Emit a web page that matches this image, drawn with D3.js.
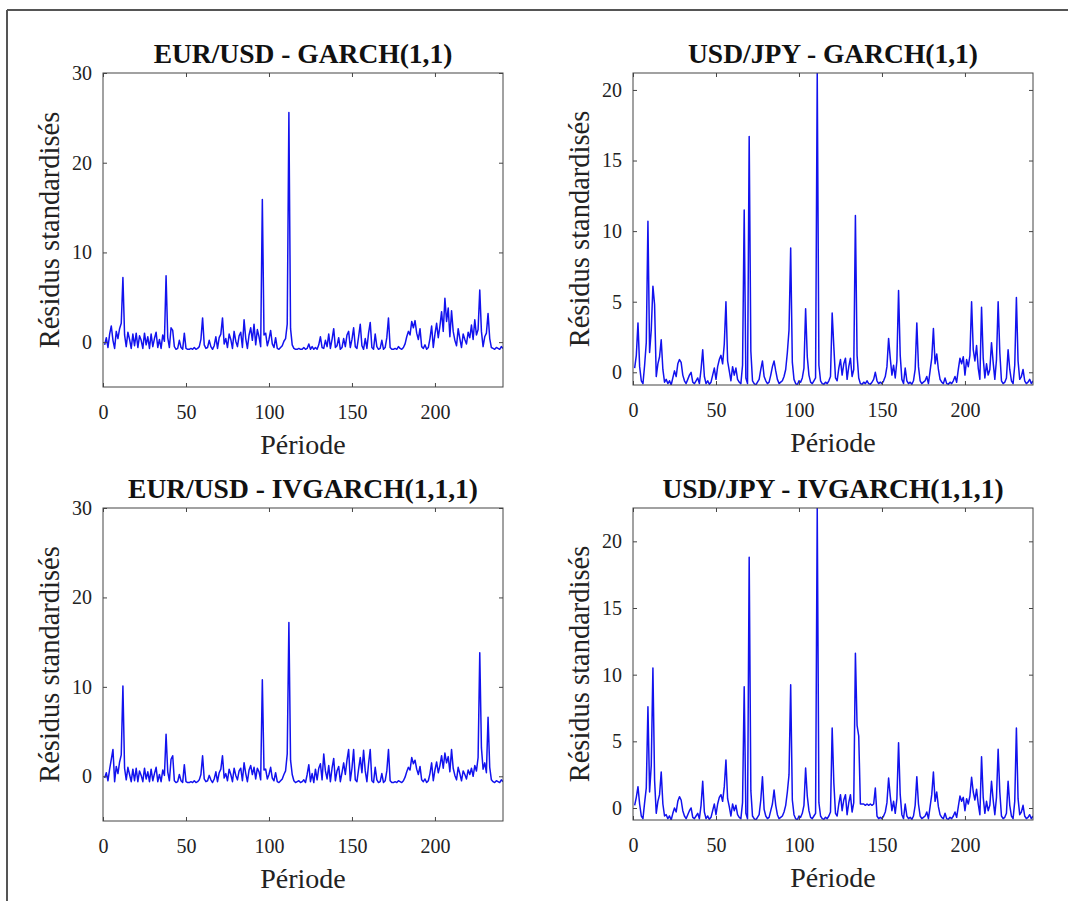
<!DOCTYPE html>
<html>
<head>
<meta charset="utf-8">
<script src="https://cdn.jsdelivr.net/npm/d3@7"></script>
<style>
  html, body { margin: 0; padding: 0; background: #fff; }
  svg { display: block; }
</style>
</head>
<body>
<svg id="chart" width="1070" height="901"></svg>
<script>
// ---------- DATA ----------
const titles = ["EUR/USD - GARCH(1,1)", "USD/JPY - GARCH(1,1)", "EUR/USD - IVGARCH(1,1,1)", "USD/JPY - IVGARCH(1,1,1)"];
const xLabel = "Période";
const yLabel = "Résidus standardisés";
const xTicks = [0, 50, 100, 150, 200];
const yTicksEUR = [0, 10, 20, 30];
const yTicksJPY = [0, 5, 10, 15, 20];

const eurGarch = [
  -0.3, 0.5, -0.6, 0.9, 1.8, 0.2, -0.7, 1.2, 0.4, 1.5,
  2.1, 7.2, 0.8, -0.5, 1.1, 0.3, -0.7, 0.9, -0.4, 1.0,
  -0.6, 0.7, 0.2, -0.7, 1.0, -0.3, 0.6, -0.7, 0.9, -0.5,
  0.4, 1.1, -0.6, 0.3, -0.7, 0.8, 0.1, 7.4, 0.5, -0.6,
  1.6, 1.3, -0.5, -0.8, -0.7, 0.2, -0.6, -0.8, 1.0, -0.7,
  -0.8, -0.8, -0.7, -0.8, -0.6, -0.8, -0.7, -0.5, 0.3, 2.7,
  -0.3, -0.7, -0.6, 0.2, -0.5, -0.8, -0.4, 0.6, -0.7, 0.5,
  0.9, 2.7, -0.2, 0.4, -0.6, 0.9, 0.3, -0.7, 1.2, 0.1,
  -0.5, 0.7, 1.1, -0.6, 2.5, 0.4, -0.7, 0.8, 1.6, 0.2,
  2.0, -0.3, 1.4, 0.6, -0.5, 15.9, 0.8, 1.0, -0.4, 0.3,
  1.3, -0.2, -0.6, 0.5, -0.7, -0.8, -0.6, -0.4, 0.1, 0.4,
  2.0, 25.6, 1.5, -0.3, -0.7, -0.8, -0.8, -0.7, -0.8, -0.8,
  -0.6, -0.8, -0.7, -0.2, -0.8, -0.5, -0.8, -0.6, -0.8, -0.3,
  0.6, -0.6, -0.7, 0.2, -0.5, 0.9, -0.7, 0.3, 1.5, -0.6,
  -0.4, 0.5, -0.8, -0.6, 0.4, -0.5, 0.8, 1.2, -0.6, 0.3,
  1.6, -0.5, -0.7, 0.6, 2.0, -0.4, -0.8, 0.4, -0.7, 1.0,
  2.2, -0.6, -0.8, 0.9, -0.5, -0.8, -0.7, 0.2, -0.8, -0.6,
  0.5, 2.7, -0.6, -0.8, -0.8, -0.7, -0.8, -0.5, -0.7, -0.8,
  -0.6, -0.2, 0.6, 1.2, 0.8, 2.3, 1.6, 2.4, 1.0, 0.3,
  1.5, -0.5, -0.7, -0.3, -0.8, -0.6, 0.4, 1.8, -0.6, 0.9,
  2.1, 0.5, 1.8, 3.4, 1.2, 4.9, 2.3, 3.8, 0.6, 3.5,
  1.2, 0.2, -0.4, 1.5, 0.4, -0.6, 0.9, 0.3, -0.2, 1.1,
  0.5, 1.9, 0.3, 2.5, 0.8, 1.4, 5.8, 1.2, -0.5, 0.6,
  1.0, 3.2, 0.4, -0.6, -0.7, -0.8, -0.6, -0.7, -0.8, -0.5,
  -0.7
];

const jpyGarch = [
  0.3, 1.2, 3.5, 0.4, -0.6, -0.8, 0.5, 2.1, 10.7, 1.4,
  3.0, 6.1, 4.8, -0.3, 0.6, 1.1, 2.3, 0.2, -0.7, -0.5,
  -0.8, -0.6, -0.9, -0.4, 0.1, -0.3, 0.6, 0.9, 0.7, -0.2,
  -0.6, -0.8, -0.5, -0.2, 0.0, -0.7, -0.8, -0.6, -0.4, -0.8,
  0.2, 1.6, -0.3, -0.8, -0.6, -0.85, -0.7, -0.2, 0.3, -0.5,
  0.4, 0.9, 1.2, 0.6, 2.0, 5.0, 0.8, 0.1, -0.6, 0.4,
  -0.2, 0.3, -0.5, -0.7, -0.8, 0.5, 11.5, -0.4, -0.8, 16.7,
  1.5, -0.6, -0.8, -0.9, -0.7, -0.5, 0.2, 0.8, -0.3, -0.6,
  -0.8, -0.7, -0.2, 0.4, 0.8, 0.1, -0.5, -0.8, -0.7, -0.6,
  -0.3, 0.2, 1.4, 3.0, 8.8, 0.7, -0.5, -0.8, -0.9, -0.6,
  -0.7, -0.4, 0.3, 4.5, 1.1, -0.2, -0.7, -0.8, -0.6, -0.4,
  21.2, 0.5, -0.6, -0.8, -0.85, -0.7, -0.8, -0.6, -0.3, 4.2,
  1.8, -0.4, -0.6, 0.3, 0.9, -0.2, 0.6, 1.0, -0.5, 0.4,
  1.0, -0.3, 0.2, 11.1, 1.2, -0.4, -0.8, -0.85, -0.7, -0.8,
  -0.6, -0.8, -0.85, -0.7, -0.5, 0.0, -0.6, -0.8, -0.7, -0.8,
  -0.6, -0.3, 0.4, 2.4, 1.0, -0.2, 0.5, -0.4, 0.8, 5.8,
  1.2, -0.5, -0.8, 0.3, -0.6, -0.8, -0.7, -0.85, -0.6, 0.2,
  3.5, 0.4, -0.6, -0.8, -0.7, -0.6, -0.3, -0.8, 0.1, 1.0,
  3.1, 0.6, 1.3, 0.2, -0.5, -0.7, -0.8, -0.4, -0.8, -0.85,
  -0.7, -0.8, -0.6, -0.3, -0.7, 0.2, 1.0, 0.6, 1.1, -0.2,
  0.9, 0.4, 1.2, 5.0, 1.6, 0.8, 1.9, 0.3, -0.5, 4.6,
  1.0, -0.4, 0.6, -0.2, 0.2, 2.1, 0.7, -0.5, 0.9, 5.0,
  1.4, -0.6, -0.8, -0.7, -0.4, 1.6, 0.2, -0.6, -0.8, 0.5,
  5.3, 0.8, -0.5, -0.3, 0.2, -0.6, -0.8, -0.7, -0.5, -0.8,
  -0.6
];

const eurIvgarch = [
  -0.2, 0.4, -0.5, 0.8, 1.9, 3.0, -0.6, 1.1, 0.3, 1.6,
  2.4, 10.1, 0.9, -0.4, 1.0, 0.2, -0.6, 0.8, -0.5, 0.9,
  -0.6, 0.6, 0.1, -0.6, 0.9, -0.3, 0.5, -0.6, 0.8, -0.5,
  0.3, 1.0, -0.6, 0.2, -0.6, 0.7, 0.1, 4.7, 0.5, -0.5,
  1.9, 2.3, -0.5, -0.7, -0.6, 0.2, -0.5, -0.7, 1.3, -0.6,
  -0.7, -0.7, -0.6, -0.7, -0.5, -0.7, -0.6, -0.4, 0.2, 2.3,
  -0.3, -0.6, -0.5, 0.1, -0.4, -0.7, -0.3, 0.5, -0.6, 0.4,
  0.8, 2.3, -0.2, 0.3, -0.5, 0.8, 0.2, -0.6, 0.9, 0.1,
  -0.4, 0.6, 0.9, -0.5, 1.5, 0.3, -0.6, 0.7, 1.2, 0.2,
  1.0, -0.3, 0.9, 0.5, -0.4, 10.8, 0.7, 0.8, -0.3, 0.2,
  1.0, -0.2, -0.5, 0.4, -0.6, -0.7, -0.5, -0.3, 0.2, 0.6,
  2.5, 17.2, 1.8, 0.2, -0.5, -0.7, -0.6, -0.5, -0.7, -0.6,
  -0.4, -0.7, 0.2, 1.3, -0.6, 0.3, -0.7, 0.8, -0.4, 0.9,
  1.4, -0.4, 2.5, 0.6, -0.3, 1.2, -0.6, 0.9, 2.0, -0.5,
  0.6, 1.1, -0.6, 0.4, 1.5, 0.2, 1.8, 3.0, -0.5, 0.9,
  3.0, -0.4, -0.6, 0.8, 2.1, 0.4, 2.9, 0.6, -0.6, 1.4,
  3.0, -0.5, -0.7, 1.0, -0.4, -0.7, -0.6, 0.3, -0.7, -0.5,
  0.6, 3.0, -0.5, -0.7, -0.7, -0.6, -0.7, -0.5, -0.6, -0.7,
  -0.5, -0.1, 0.5, 1.0, 0.7, 2.1, 1.4, 1.8, 0.8, 0.2,
  1.1, -0.4, -0.6, -0.3, -0.7, -0.5, 0.3, 1.5, -0.5, 0.7,
  1.6, 0.4, 1.2, 2.3, 0.9, 2.6, 1.5, 2.2, 0.5, 3.0,
  0.9, 0.1, -0.4, 1.0, 0.3, -0.5, 0.6, 0.2, -0.3, 0.7,
  0.2, 0.9, 0.0, 1.2, 0.6, 2.1, 13.8, 3.2, 0.8, 1.5,
  0.4, 6.6, 1.0, -0.4, -0.6, -0.7, -0.5, -0.6, -0.7, -0.4,
  -0.6
];

const jpyIvgarch = [
  0.2, 0.8, 1.6, 0.3, -0.6, -0.8, 0.4, 1.5, 7.6, 1.2,
  3.2, 10.5, 2.1, -0.4, 0.5, 1.0, 2.7, 0.3, -0.6, -0.5,
  -0.8, -0.6, -0.9, -0.4, 0.0, -0.3, 0.5, 0.85, 0.6, -0.2,
  -0.6, -0.8, -0.5, -0.2, 0.0, -0.7, -0.8, -0.6, -0.4, -0.8,
  0.2, 2.0, -0.3, -0.8, -0.6, -0.85, -0.7, -0.2, 0.3, -0.5,
  0.3, 0.8, 1.0, 0.5, 1.6, 3.6, 0.7, 0.1, -0.6, 0.3,
  -0.2, 0.2, -0.5, -0.7, -0.8, 0.4, 9.1, -0.4, -0.8, 18.8,
  1.3, -0.6, -0.8, -0.9, -0.7, -0.5, 0.6, 2.35, -0.1, -0.6,
  -0.8, -0.7, -0.2, 0.3, 1.35, 0.2, -0.5, -0.8, -0.7, -0.6,
  -0.3, 0.2, 1.2, 2.5, 9.25, 0.6, -0.5, -0.8, -0.9, -0.6,
  -0.7, -0.4, 0.2, 3.0, 0.9, -0.2, -0.7, -0.8, -0.6, -0.4,
  22.5, 0.4, -0.6, -0.8, -0.85, -0.7, -0.8, -0.6, -0.3, 6.0,
  1.9, -0.4, -0.6, 0.3, 1.0, -0.2, 0.6, 1.0, -0.5, 0.4,
  1.0, -0.3, 0.4, 11.6, 6.2, 5.4, 0.3, 0.3, 0.3, 0.2,
  0.3, 0.2, 0.3, 0.2, 0.3, 1.5, -0.6, -0.8, -0.7, -0.8,
  -0.6, -0.3, 0.4, 2.25, 0.9, -0.2, 0.5, -0.4, 0.7, 4.9,
  1.0, -0.5, -0.8, 0.3, -0.6, -0.8, -0.7, -0.85, -0.6, 0.2,
  2.35, 0.3, -0.6, -0.8, -0.7, -0.6, -0.3, -0.8, 0.1, 1.0,
  2.7, 0.5, 1.2, 0.1, -0.5, -0.7, -0.8, -0.4, -0.8, -0.85,
  -0.7, -0.8, -0.6, -0.3, -0.7, 0.1, 0.9, 0.5, 0.8, -0.2,
  0.7, 0.3, 0.9, 2.3, 1.2, 0.6, 1.4, 0.3, -0.5, 3.85,
  0.8, -0.4, 0.5, -0.2, 0.2, 2.0, 0.6, -0.5, 0.8, 4.4,
  1.2, -0.6, -0.8, -0.7, -0.4, 2.0, 0.2, -0.6, -0.8, 0.5,
  6.0, 0.7, -0.5, -0.3, 0.2, -0.6, -0.8, -0.7, -0.5, -0.8,
  -0.6
];

const xMax = 241;
const eurYDomain = [-5, 30];

// ---------- LAYOUT ----------
const svg = d3.select("#chart");
const serif = "'Liberation Serif', 'Times New Roman', serif";

// outer frame
svg.append("line").attr("x1", 7).attr("y1", 10).attr("x2", 1068).attr("y2", 10)
  .attr("stroke", "#555").attr("stroke-width", 2);
svg.append("line").attr("x1", 7).attr("y1", 10).attr("x2", 7).attr("y2", 901)
  .attr("stroke", "#555").attr("stroke-width", 2);

const panels = [
  { title: titles[0], data: eurGarch,   x0: 103, y0: 73,  w: 400, h: 314, yDomain: eurYDomain, yTicks: yTicksEUR },
  { title: titles[1], data: jpyGarch,   x0: 633, y0: 73,  w: 400, h: 312, yDomain: null, yTicks: yTicksJPY },
  { title: titles[2], data: eurIvgarch, x0: 103, y0: 508, w: 400, h: 313, yDomain: eurYDomain, yTicks: yTicksEUR },
  { title: titles[3], data: jpyIvgarch, x0: 633, y0: 508, w: 400, h: 312, yDomain: null, yTicks: yTicksJPY }
];

panels.forEach((p, idx) => {
  const g = svg.append("g").attr("transform", `translate(${p.x0},${p.y0})`);
  const x = d3.scaleLinear().domain([0, xMax]).range([0, p.w]);
  const yd = p.yDomain || d3.extent(p.data);
  const y = d3.scaleLinear().domain(yd).range([p.h, 0]);

  // clip
  const cid = "clip" + idx;
  g.append("clipPath").attr("id", cid).append("rect")
    .attr("x", 0).attr("y", 0).attr("width", p.w).attr("height", p.h);

  // line
  const line = d3.line().x((d, i) => x(i + 1)).y(d => y(d));
  g.append("path").datum(p.data)
    .attr("clip-path", `url(#${cid})`)
    .attr("fill", "none")
    .attr("stroke", "#1212ee")
    .attr("stroke-width", 1.5)
    .attr("stroke-linejoin", "round")
    .attr("d", line);

  // axes (inward ticks, mirrored)
  const tickStyle = sel => {
    sel.select(".domain").remove();
    sel.selectAll(".tick line").attr("stroke", "#444");
    sel.selectAll(".tick text").attr("font-family", serif).attr("font-size", 20).attr("fill", "#222");
  };
  g.append("g").attr("transform", `translate(0,${p.h})`)
    .call(d3.axisBottom(x).tickValues(xTicks).tickSize(-4).tickPadding(18))
    .call(tickStyle);
  g.append("g")
    .call(d3.axisTop(x).tickValues(xTicks).tickSize(-4).tickFormat(""))
    .call(tickStyle);
  g.append("g")
    .call(d3.axisLeft(y).tickValues(p.yTicks).tickSize(-4).tickPadding(11))
    .call(tickStyle);
  g.append("g").attr("transform", `translate(${p.w},0)`)
    .call(d3.axisRight(y).tickValues(p.yTicks).tickSize(-4).tickFormat(""))
    .call(tickStyle);

  // box
  g.append("rect").attr("x", 0).attr("y", 0).attr("width", p.w).attr("height", p.h)
    .attr("fill", "none").attr("stroke", "#444").attr("stroke-width", 1);

  // title
  g.append("text").attr("x", p.w / 2).attr("y", -10)
    .attr("text-anchor", "middle")
    .attr("font-family", serif).attr("font-weight", "bold").attr("font-size", 27.5)
    .attr("fill", "#111")
    .text(p.title);

  // x label
  g.append("text").attr("x", p.w / 2).attr("y", p.h + 67)
    .attr("text-anchor", "middle")
    .attr("font-family", serif).attr("font-size", 28).attr("fill", "#222")
    .text(xLabel);

  // y label
  g.append("text")
    .attr("transform", `translate(-44,${p.h / 2}) rotate(-90)`)
    .attr("text-anchor", "middle")
    .attr("font-family", serif).attr("font-size", 28.5).attr("fill", "#222")
    .text(yLabel);
});
</script>
</body>
</html>
